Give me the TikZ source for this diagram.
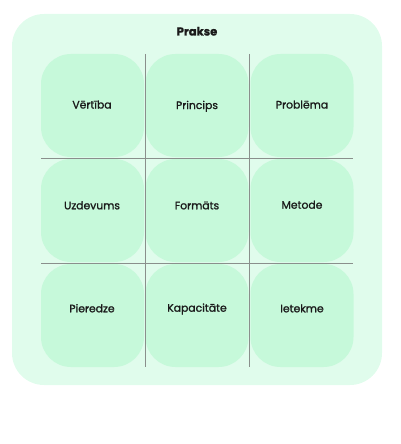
\documentclass[tikz,border=0pt]{standalone}
\usepackage{fontspec}
\setmainfont{Poppins}
\newfontfamily\medfont[RawFeature={embolden=1.3}]{Poppins}
\newfontfamily\heavyfont[RawFeature={embolden=1.2}]{Poppins Bold}
\definecolor{outerfill}{HTML}{E0FCEC}
\definecolor{cellfill}{HTML}{C6F9DA}
\definecolor{gridline}{HTML}{8A8F8C}
\definecolor{txt}{HTML}{1A1A1A}
\begin{document}
\begin{tikzpicture}[x=1pt,y=-1pt,
  cellbox/.style={fill=cellfill, draw=none, rounded corners=30pt, minimum width=103pt, minimum height=103pt, inner sep=0pt},
  lbl/.style={font=\medfont\fontsize{10.8}{12}\selectfont, text=txt, inner sep=0pt, anchor=base},
  grid/.style={draw=gridline, line width=0.8pt}]
\useasboundingbox (0,0) rectangle (400,444);
\fill[outerfill, rounded corners=32pt] (12,14) rectangle (382,385);
\node[font=\heavyfont\fontsize{11.5}{13}\selectfont, text=txt, anchor=base, inner sep=0pt] (title) at (197,35.5) {Prakse};
% cells
\foreach \c/\cx in {1/92.5, 2/197, 3/302}{
  \foreach \r/\cy in {1/105.5, 2/210.5, 3/315.5}{
    \node[cellbox] (c\r\c) at (\cx,\cy) {};
  }
}
\node[lbl] (t11) at (92,108.5) {Vērtība};
\node[lbl] (t12) at (197,109) {Princips};
\node[lbl] (t13) at (302,108.5) {Problēma};
\node[lbl] (t21) at (92,209.3) {Uzdevums};
\node[lbl] (t22) at (197,209.3) {Formāts};
\node[lbl] (t23) at (302,208.7) {Metode};
\node[lbl] (t31) at (92,312.3) {Pieredze};
\node[lbl] (t32) at (197,311.7) {Kapacitāte};
\node[lbl] (t33) at (302,312.3) {Ietekme};
% grid lines
\coordinate (v1t) at (145,54); \coordinate (v1b) at (145,367);
\coordinate (v2t) at (249.5,54); \coordinate (v2b) at (249.5,367);
\coordinate (h1l) at (41,158); \coordinate (h1r) at (353,158);
\coordinate (h2l) at (41,263); \coordinate (h2r) at (353,263);
\draw[grid] (v1t) -- (v1b);
\draw[grid] (v2t) -- (v2b);
\draw[grid] (h1l) -- (h1r);
\draw[grid] (h2l) -- (h2r);
\end{tikzpicture}
\end{document}
